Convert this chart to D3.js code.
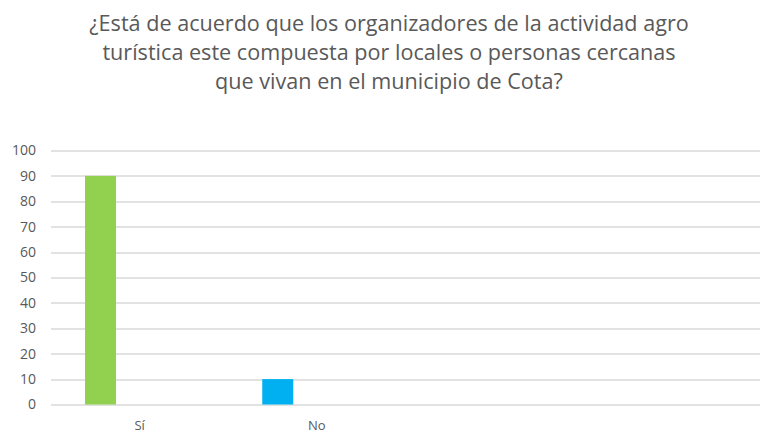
<!DOCTYPE html>
<html>
<head>
<meta charset="utf-8">
<script src="https://cdn.jsdelivr.net/npm/d3@7"></script>
<style>
  body { margin: 0; background: #fff; }
  text { font-family: "Open Sans", "Noto Sans", sans-serif; fill: #595959; }
</style>
</head>
<body>
<svg id="chart" width="766" height="433"></svg>
<script>
// chart data
var titleLines = [
    "¿Está de acuerdo que los organizadores de la actividad agro",
    "turística este compuesta por locales o personas cercanas",
    "que vivan en el municipio de Cota?"
];
var categories = ["Sí", "No", "", " "];
var values = [90, 10, null, null];
var barColors = ["#92D050", "#00B0F0", "#92D050", "#00B0F0"];
var yTicks = [0, 10, 20, 30, 40, 50, 60, 70, 80, 90, 100];

var svg = d3.select("#chart");

var margin = {top: 150.5, right: 6, bottom: 28.5, left: 51},
    width = 766 - margin.left - margin.right,
    height = 433 - margin.top - margin.bottom;

var g = svg.append("g")
    .attr("transform", "translate(" + margin.left + "," + margin.top + ")");

// title
svg.append("g")
    .selectAll("text")
    .data(titleLines)
    .enter()
    .append("text")
    .attr("x", 389)
    .attr("y", function(d, i) { return 31 + i * 29; })
    .attr("text-anchor", "middle")
    .style("font-size", "21.6px")
    .text(function(d) { return d; });

var y = d3.scaleLinear()
    .domain([0, 100])
    .range([height, 0]);

// category slots (labels) and bar positions
var x = d3.scaleBand()
    .domain(categories)
    .range([0, width])
    .padding(0);

var xBar = d3.scaleBand()
    .domain(categories)
    .range([0, width])
    .paddingInner(0.825)
    .paddingOuter(0.4125)
    .align(0.2325);

// gridlines
g.append("g")
    .selectAll("line")
    .data(yTicks)
    .enter()
    .append("line")
    .attr("x1", 0)
    .attr("x2", width)
    .attr("y1", function(d) { return Math.round(y(d)) + 0.5; })
    .attr("y2", function(d) { return Math.round(y(d)) + 0.5; })
    .style("stroke", "#d9d9d9")
    .style("stroke-width", 1.3);

// y axis labels
var yAxis = d3.axisLeft(y)
    .tickValues(yTicks)
    .tickSize(0)
    .tickPadding(15);

var yG = g.append("g").call(yAxis);
yG.select(".domain").remove();
yG.selectAll("text")
    .style("font-size", "14px")
    .style("fill", "#595959")
    .style("font-family", "\"Open Sans\", sans-serif");

// bars
g.selectAll(".bar")
    .data(categories.map(function(c, i) { return {cat: c, value: values[i], color: barColors[i]}; })
        .filter(function(d) { return d.value != null; }))
    .enter()
    .append("rect")
    .attr("class", "bar")
    .attr("x", function(d) { return xBar(d.cat); })
    .attr("width", xBar.bandwidth())
    .attr("y", function(d) { return y(d.value); })
    .attr("height", function(d) { return y(0) - y(d.value); })
    .style("fill", function(d) { return d.color; });

// category labels
var xAxis = d3.axisBottom(x)
    .tickSize(0)
    .tickPadding(16);

var xG = g.append("g")
    .attr("transform", "translate(0," + height + ")")
    .call(xAxis);
xG.select(".domain").remove();
xG.selectAll("text")
    .style("font-size", "13px")
    .style("fill", "#595959")
    .style("font-family", "\"Open Sans\", sans-serif");
</script>
</body>
</html>
